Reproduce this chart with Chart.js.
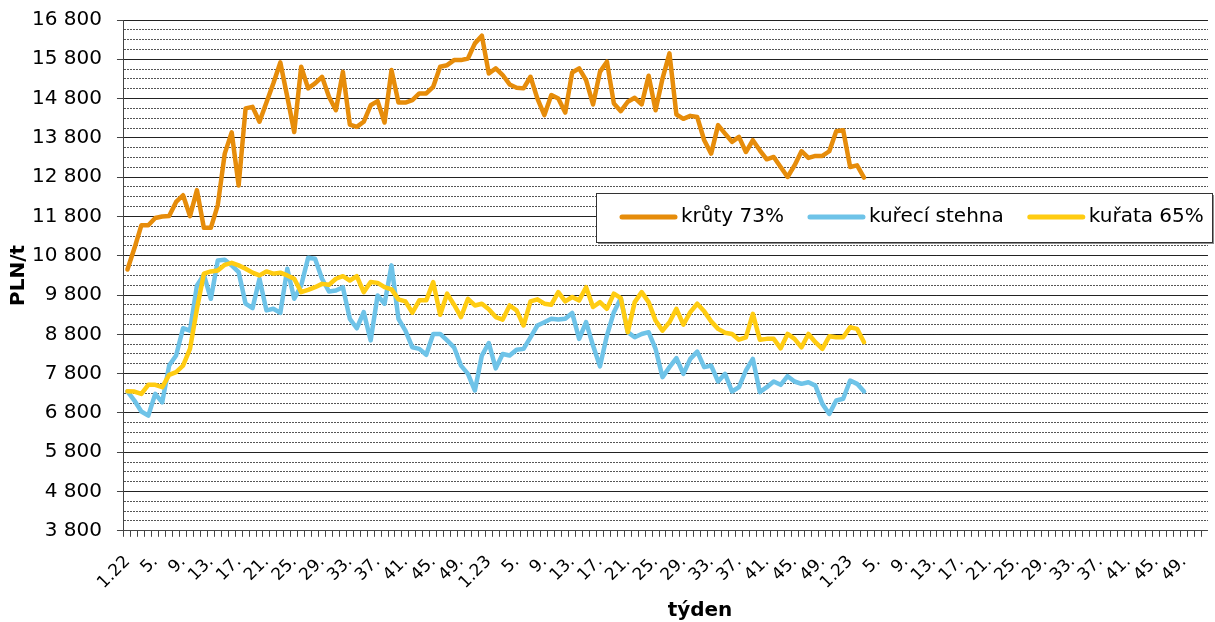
<!DOCTYPE html>
<html>
<head>
<meta charset="utf-8">
<script src="https://cdn.jsdelivr.net/npm/chart.js@4"></script>
<style>
	html, body { margin: 0; padding: 0; background: #fff; overflow: hidden; }
	#wrap { width: 1227px; height: 629px; position: relative; top: -7px; }
</style>
</head>
<body>
<div id="wrap"><canvas id="price-chart"></canvas></div>
<script>
const seriesNames = ['krůty 73%', 'kuřecí stehna', 'kuřata 65%'];
const seriesColors = ['#E68C0A', '#6EC3E8', '#FFCC11'];

// year suffix of the first week in each block (the source repeats "1.23")
const yearSuffixes = ['22', '23', '23'];
const weeksPerYear = 52;

const weekLabels = [];
yearSuffixes.forEach(yy => {
	for (let w = 1; w <= weeksPerYear; w++) {
		weekLabels.push(w === 1 ? `1.${yy}` : `${w}.`);
	}
});

const turkey73 = [
	10450, 10990, 11575, 11575, 11760, 11800, 11810, 12170, 12340, 11810,
	12470, 11510, 11510, 12090, 13400, 13940, 12590, 14550, 14590, 14210,
	14700, 15190, 15720, 14845, 13950, 15610, 15060, 15185, 15355, 14845,
	14505, 15480, 14140, 14080, 14210, 14630, 14735, 14190, 15525, 14700,
	14700, 14760, 14930, 14930, 15100, 15610, 15650, 15780, 15780, 15820,
	16205, 16400, 15440, 15570, 15400, 15160, 15075, 15060, 15355, 14800,
	14380, 14890, 14800, 14445, 15465, 15570, 15270, 14650, 15480, 15740,
	14675, 14480, 14720, 14820, 14650, 15380, 14505, 15310, 15950, 14395,
	14285, 14360, 14330, 13740, 13400, 14125, 13910, 13700, 13825, 13440,
	13740, 13485, 13255, 13315, 13060, 12805, 13100, 13460, 13290, 13340,
	13340, 13460, 13970, 13995, 13060, 13100, 12790
];

const chickenLegs = [
	7350, 7115, 6835, 6730, 7285, 7070, 8005, 8260, 8955, 8895,
	10045, 10315, 9705, 10680, 10700, 10555, 10385, 9580, 9465, 10215,
	9410, 9450, 9345, 10470, 9705, 10045, 10750, 10725, 10215, 9890,
	9915, 10000, 9195, 8955, 9365, 8645, 9790, 9580, 10555, 9195,
	8895, 8470, 8430, 8280, 8810, 8810, 8645, 8470, 8005, 7795,
	7370, 8260, 8580, 7935, 8300, 8260, 8410, 8430, 8725, 9025,
	9110, 9195, 9175, 9195, 9345, 8685, 9110, 8515, 7985, 8770,
	9365, 9720, 8855, 8725, 8810, 8855, 8430, 7710, 7965, 8195,
	7795, 8175, 8360, 7965, 8005, 7600, 7795, 7345, 7455, 7880,
	8175, 7330, 7455, 7600, 7515, 7735, 7600, 7540, 7580, 7495,
	7030, 6775, 7115, 7160, 7625, 7540, 7345
];

const chicken65 = [
	7350, 7345, 7285, 7515, 7515, 7455, 7770, 7840, 8005, 8430,
	9450, 10345, 10400, 10425, 10570, 10620, 10555, 10470, 10370, 10300,
	10400, 10345, 10370, 10300, 10215, 9875, 9930, 10000, 10085, 10060,
	10215, 10280, 10170, 10280, 9875, 10130, 10110, 10000, 9945, 9690,
	9640, 9350, 9665, 9665, 10130, 9300, 9835, 9555, 9240, 9705,
	9535, 9580, 9440, 9240, 9175, 9535, 9410, 9025, 9640, 9690,
	9580, 9555, 9875, 9640, 9750, 9665, 10000, 9495, 9620, 9450,
	9835, 9720, 8855, 9620, 9875, 9620, 9150, 8895, 9110, 9450,
	9045, 9365, 9580, 9385, 9130, 8940, 8840, 8810, 8665, 8725,
	9320, 8665, 8685, 8685, 8445, 8810, 8685, 8470, 8810, 8600,
	8430, 8750, 8725, 8725, 8980, 8940, 8600
];

const yMin = 3800;
const yMax = 16800;
const FONT = 'DejaVu Sans';

const isMajor = value => (value - yMin) % 1000 === 0;
const formatThousands = value => String(value).replace(/\B(?=(\d{3})+(?!\d))/g, ' ');

// canvas is shifted up 7px by css, so drawn positions below are +7
const insideLegend = {
	id: 'insideLegend',
	afterDraw(chart) {
		const { ctx } = chart;
		const box = { left: 596, top: 200, width: 616, height: 49 };

		ctx.save();
		ctx.fillStyle = '#8c8c8c';
		ctx.fillRect(box.left + 2, box.top + 2, box.width, box.height);
		ctx.fillStyle = '#fff';
		ctx.fillRect(box.left, box.top, box.width, box.height);
		ctx.strokeStyle = '#333';
		ctx.lineWidth = 1;
		ctx.strokeRect(box.left + 0.5, box.top + 0.5, box.width, box.height);

		ctx.font = `20px "${FONT}"`;
		ctx.textBaseline = 'middle';
		ctx.fillStyle = '#000';
		ctx.lineCap = 'round';
		ctx.lineWidth = 5;

		const midY = box.top + 24;
		let x = box.left + 26;

		chart.data.datasets.forEach(ds => {
			ctx.strokeStyle = ds.borderColor;
			ctx.beginPath();
			ctx.moveTo(x, midY);
			ctx.lineTo(x + 53, midY);
			ctx.stroke();
			x += 59;
			ctx.fillText(ds.label, x, midY);
			x += ctx.measureText(ds.label).width + 26;
		});
		ctx.restore();
	}
};

// x axis title sits right of the plot centre in the original
const weekTitle = {
	id: 'weekTitle',
	afterDraw(chart) {
		const { ctx } = chart;
		ctx.save();
		ctx.font = `bold 20px "${FONT}"`;
		ctx.fillStyle = '#000';
		ctx.textAlign = 'center';
		ctx.textBaseline = 'middle';
		ctx.fillText('týden', 700, 618);
		ctx.restore();
	}
};

const seriesData = [turkey73, chickenLegs, chicken65];

new Chart(document.querySelector('#price-chart'), {
	type: 'line',
	data: {
		labels: weekLabels,
		datasets: seriesData.map((values, index) => ({
			label: seriesNames[index],
			data: values,
			borderColor: seriesColors[index],
			backgroundColor: seriesColors[index],
			borderWidth: 4.5,
			pointRadius: 0,
			tension: 0,
			borderJoinStyle: 'round',
			borderCapStyle: 'round',
			order: 3 - index
		}))
	},
	options: {
		responsive: true,
		maintainAspectRatio: false,
		animation: false,
		layout: {
			padding: { top: 4, left: 4, right: 0, bottom: 14 }
		},
		scales: {
			x: {
				offset: true,
				grid: {
					offset: true,
					drawOnChartArea: false,
					drawTicks: true,
					tickLength: 6,
					color: '#444'
				},
				border: { display: true, color: '#444' },
				ticks: {
					autoSkip: false,
					maxRotation: 45,
					minRotation: 45,
					padding: 15,
					color: '#000',
					font: { family: FONT, size: 17 },
					callback: function (value, index, ticks) {
						if (index === ticks.length - 1) return null;
						return index % 4 === 0 ? this.getLabelForValue(value) : '';
					}
				}
			},
			y: {
				min: yMin,
				max: yMax,
				grid: {
					color: ctx => (ctx.tick && isMajor(ctx.tick.value)) ? '#222' : '#555',
					tickColor: ctx => (ctx.tick && isMajor(ctx.tick.value)) ? '#444' : 'rgba(0,0,0,0)',
					tickLength: 7,
					lineWidth: 1
				},
				border: {
					display: true,
					color: '#444',
					dash: ctx => (ctx.tick && !isMajor(ctx.tick.value)) ? [2, 1] : []
				},
				ticks: {
					stepSize: 250,
					autoSkip: false,
					padding: 15,
					color: '#000',
					font: { family: FONT, size: 20 },
					callback: value => isMajor(value) ? formatThousands(value) : ''
				},
				title: {
					display: true,
					text: 'PLN/t',
					color: '#000',
					font: { family: FONT, size: 20, weight: 'bold' },
					padding: { top: 3, bottom: -14 }
				}
			}
		},
		plugins: {
			legend: { display: false },
			tooltip: { enabled: false }
		}
	},
	plugins: [insideLegend, weekTitle]
});
</script>
</body>
</html>
